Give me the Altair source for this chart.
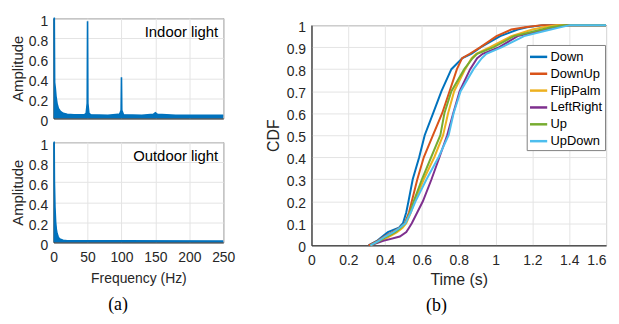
import altair as alt
import pandas as pd

# ---------------- data ----------------
# (a) amplitude spectra (upper envelope)
indoor_freq = [0, 1, 1.5, 2.5, 3.5, 5, 7, 10, 14, 20, 30, 45, 48, 49.5, 50, 50.5, 52, 55, 80,
               95, 97, 99.5, 100, 100.5, 103, 130, 147, 150, 153, 180, 220, 250]
indoor_amp = [1.0, 1.0, 0.36, 0.3, 0.22, 0.15, 0.1, 0.07, 0.05, 0.04, 0.035, 0.035, 0.05, 0.15, 0.97,
              0.15, 0.05, 0.035, 0.03, 0.04, 0.035, 0.08, 0.41, 0.08, 0.035, 0.03, 0.04, 0.055, 0.04,
              0.03, 0.03, 0.03]
outdoor_freq = [0, 0.8, 1.2, 2, 3, 4, 5, 6.5, 8, 10, 14, 20, 100, 250]
outdoor_amp = [1.0, 1.0, 0.6, 0.35, 0.2, 0.13, 0.09, 0.06, 0.04, 0.03, 0.02, 0.015, 0.015, 0.012]

freq_ticks = [0, 50, 100, 150, 200, 250]
amp_ticks = [0, 0.2, 0.4, 0.6, 0.8, 1]

# (b) CDF of gesture duration: time at which each CDF level is reached
cdf_levels = [0, 0.02, 0.04, 0.06, 0.08, 0.1, 0.15, 0.2, 0.3, 0.4, 0.5, 0.6, 0.7, 0.8, 0.85,
              0.87, 0.9, 0.95, 0.98, 0.99, 1.0, 1.0]
t_down = [0.31, 0.355, 0.385, 0.415, 0.475, 0.497, 0.515, 0.527, 0.55, 0.585, 0.615, 0.661,
          0.706, 0.76, 0.82, 0.87, 0.92, 1.025, 1.12, 1.17, 1.26, 1.6]
t_downup = [0.31, 0.36, 0.395, 0.44, 0.48, 0.507, 0.53, 0.545, 0.575, 0.61, 0.66, 0.71, 0.75,
            0.79, 0.818, 0.86, 0.918, 1.005, 1.085, 1.16, 1.25, 1.6]
t_flippalm = [0.32, 0.38, 0.425, 0.465, 0.495, 0.515, 0.54, 0.56, 0.61, 0.667, 0.715, 0.742,
              0.775, 0.835, 0.87, 0.895, 0.97, 1.085, 1.2, 1.26, 1.33, 1.6]
t_leftright = [0.32, 0.39, 0.48, 0.515, 0.53, 0.545, 0.575, 0.605, 0.652, 0.695, 0.737, 0.77,
               0.805, 0.862, 0.9, 0.93, 1.02, 1.12, 1.28, 1.33, 1.39, 1.6]
t_up = [0.32, 0.37, 0.41, 0.455, 0.485, 0.51, 0.535, 0.555, 0.6, 0.65, 0.7, 0.722, 0.76,
        0.83, 0.875, 0.9, 0.99, 1.1, 1.25, 1.3, 1.37, 1.6]
t_updown = [0.32, 0.365, 0.4, 0.445, 0.48, 0.51, 0.54, 0.565, 0.625, 0.69, 0.745, 0.772, 0.81,
            0.88, 0.925, 0.95, 1.035, 1.155, 1.3, 1.35, 1.405, 1.6]

series_names = ["Down", "DownUp", "FlipPalm", "LeftRight", "Up", "UpDown"]
series_colors = ["#0072BD", "#D95319", "#EDB120", "#7E2F8E", "#77AC30", "#4DBEEE"]
series_times = [t_down, t_downup, t_flippalm, t_leftright, t_up, t_updown]

time_ticks = [0, 0.2, 0.4, 0.6, 0.8, 1, 1.2, 1.4, 1.6]
cdf_ticks = [0, 0.1, 0.2, 0.3, 0.4, 0.5, 0.6, 0.7, 0.8, 0.9, 1]

BLUE = "#0072BD"
AX = "#262626"
GRID = "#e4e4e4"
FONT = "Liberation Sans"

# ---------------- (a) spectra ----------------
LW, LH = 171, 101


def spectrum(freq, amp, label, bottom):
    df = pd.DataFrame({"f": freq, "a": amp})
    x_axis = alt.Axis(values=freq_ticks, grid=True, gridColor=GRID, ticks=False, tickSize=0,
                      labels=bottom, labelFontSize=14, labelPadding=8, labelFlush=False,
                      labelOverlap=False, domainColor=AX,
                      title="Frequency (Hz)" if bottom else "", titleFontSize=14,
                      titleFontWeight="normal", titlePadding=8)
    y_axis = alt.Axis(values=amp_ticks, format="~g", grid=True, gridColor=GRID, ticks=False,
                      tickSize=0, labelFontSize=14, labelPadding=6, labelOffset=3,
                      labelOverlap=False, domainColor=AX, title="Amplitude", titleFontSize=15,
                      titleFontWeight="normal", titlePadding=3)
    area = alt.Chart(df).mark_area(color=BLUE, opacity=1,
                                   line={"color": BLUE, "strokeWidth": 1.6}).encode(
        x=alt.X("f:Q", scale=alt.Scale(domain=[0, 250], nice=False, zero=False), axis=x_axis),
        y=alt.Y("a:Q", scale=alt.Scale(domain=[0, 1], nice=False), axis=y_axis),
    )
    txt = alt.Chart(pd.DataFrame({"t": [label]})).mark_text(
        align="right", baseline="middle", fontSize=15, font=FONT, color="#000"
    ).encode(x=alt.value(LW - 5), y=alt.value(14), text="t:N")
    layers = [area, txt]
    if bottom:
        cap = alt.Chart(pd.DataFrame({"t": ["(a)"]})).mark_text(
            align="center", baseline="middle", fontSize=18, font="Liberation Serif", color="#000"
        ).encode(x=alt.value(118 - 53), y=alt.value(306 - 142), text="t:N")
        layers.append(cap)
    return alt.layer(*layers).properties(width=LW, height=LH)


top_left = spectrum(indoor_freq, indoor_amp, "Indoor light", False)
bottom_left = spectrum(outdoor_freq, outdoor_amp, "Outdoor light", True)
left = alt.vconcat(top_left, bottom_left, spacing=8)

# ---------------- (b) CDF ----------------
RW, RH = 297, 222
rows = []
for name, ts in zip(series_names, series_times):
    for i, (t, c) in enumerate(zip(ts, cdf_levels)):
        rows.append({"series": name, "t": t, "cdf": c, "i": i})
cdf_df = pd.DataFrame(rows)

lines = alt.Chart(cdf_df).mark_line(strokeWidth=2, interpolate="linear").encode(
    x=alt.X("t:Q", scale=alt.Scale(domain=[0, 1.6], nice=False),
            axis=alt.Axis(values=time_ticks, format="~g", grid=True, gridColor=GRID, ticks=False,
                          tickSize=0, labelFontSize=14, labelPadding=8, labelFlush=False,
                          labelOverlap=False, domainColor=AX,
                          labelAlign={"condition": {"test": "datum.value >= 1.6",
                                                    "value": "right"},
                                      "value": "center"},
                          title="Time (s)", titleFontSize=16, titleFontWeight="normal",
                          titlePadding=5)),
    y=alt.Y("cdf:Q", scale=alt.Scale(domain=[0, 1], nice=False),
            axis=alt.Axis(values=cdf_ticks, format="~g", grid=True, gridColor=GRID, ticks=False,
                          tickSize=0, labelFontSize=14, labelPadding=6, labelOffset=2,
                          labelOverlap=False, domainColor=AX, title="CDF", titleFontSize=16,
                          titleFontWeight="normal", titlePadding=5)),
    color=alt.Color("series:N", scale=alt.Scale(domain=series_names, range=series_colors),
                    legend=alt.Legend(title=None, orient="none", legendX=477, legendY=27,
                                      symbolType="stroke", symbolStrokeWidth=2.5,
                                      symbolSize=300, labelFontSize=13, labelFont=FONT,
                                      labelColor="#000", labelOffset=2, rowPadding=0,
                                      padding=2, strokeColor="#808080", fillColor="#ffffff",
                                      cornerRadius=0)),
    order="i:Q",
)
cap_b = alt.Chart(pd.DataFrame({"t": ["(b)"]})).mark_text(
    align="center", baseline="middle", fontSize=18, font="Liberation Serif", color="#000"
).encode(x=alt.value(438 - 312), y=alt.value(306 - 23), text="t:N")
right_plot = alt.layer(lines, cap_b).properties(width=RW, height=RH)

spacer = alt.Chart(pd.DataFrame({"v": [0]})).mark_point(opacity=0, size=1).encode(
    x=alt.value(0), y=alt.value(0)
).properties(width=RW, height=1, view=alt.ViewBackground(strokeOpacity=0))

right = alt.vconcat(spacer, right_plot, spacing=0)

chart = alt.hconcat(left, right, spacing=29).properties(
    padding={"left": 2, "top": 4, "right": 0, "bottom": 0}
).configure(font=FONT).configure_view(stroke=AX, strokeWidth=1).configure_axis(
    labelColor=AX, titleColor=AX, labelFont=FONT, titleFont=FONT
)

chart.save("out.html", embed_options={"renderer": "svg", "actions": False})
